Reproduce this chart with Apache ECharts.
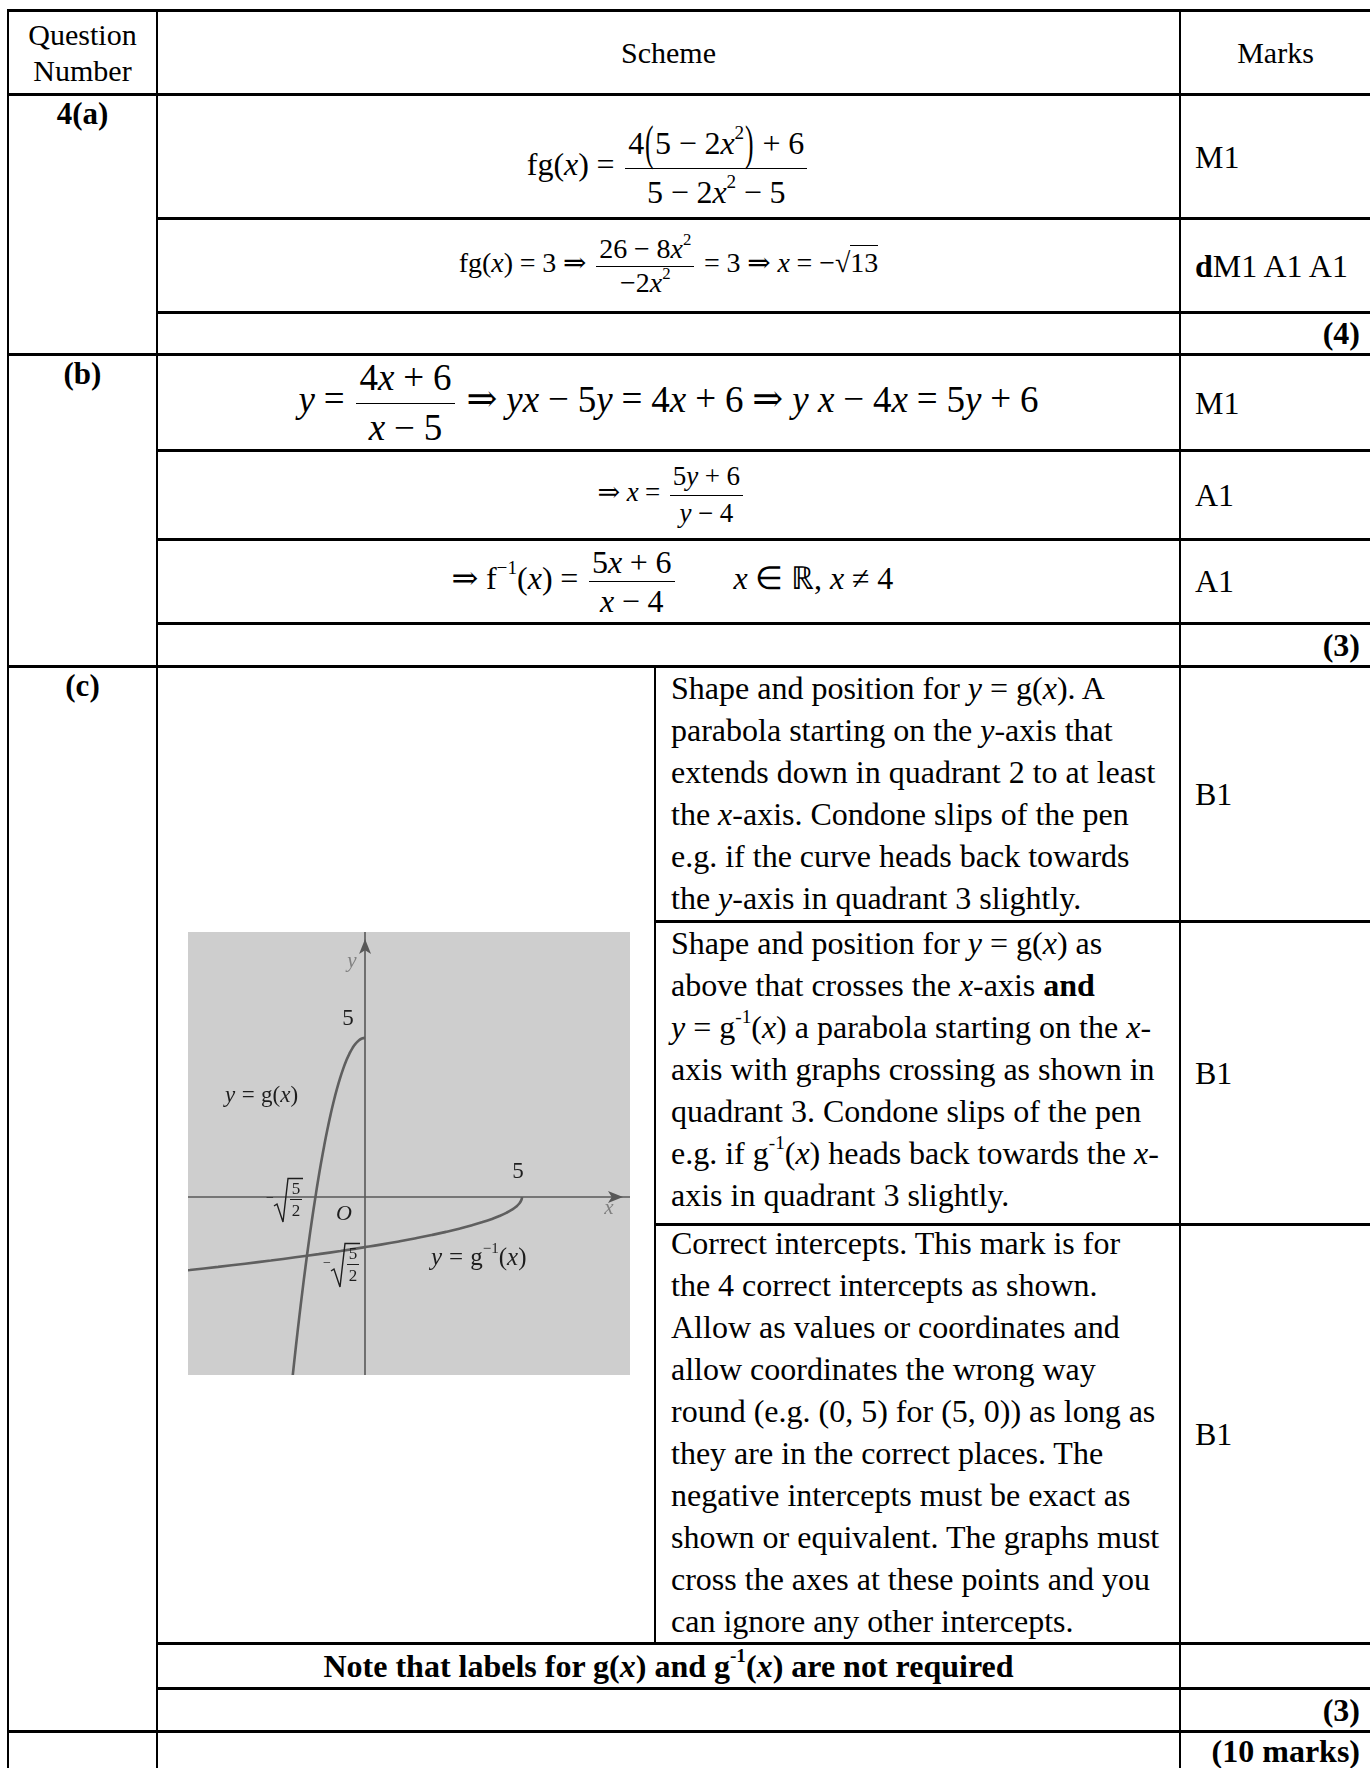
<!DOCTYPE html>
<html>
<head>
<meta charset="utf-8">
<title>Question 4 mark scheme</title>
<script src="https://cdn.jsdelivr.net/npm/echarts@6.0.0/dist/echarts.min.js"></script>
<style>
  body { margin:0; width:1370px; height:1768px; position:relative; overflow:hidden; background:#fff;
         font-family:"Liberation Serif","Times New Roman",serif; color:#000; }
  .h { position:absolute; height:3px; background:#000; }
  .v { position:absolute; width:2px; background:#000; }
  .cell { position:absolute; display:flex; align-items:center; white-space:nowrap; }
  .ctr { justify-content:center; }
  .rgt { justify-content:flex-end; }
  .t { position:absolute; white-space:nowrap; }
  .body { font-size:32px; line-height:42px; }
  sup { font-size:0.6em; line-height:0; vertical-align:0.8em; }
  .o { margin:0 0.24em; }
  .ar { font-family:"DejaVu Serif",serif; }
  .fr { display:inline-flex; flex-direction:column; align-items:center; vertical-align:middle; margin:0 3px; }
  .fr > .n { border-bottom:1.6px solid #000; padding:0 3px 1px; }
  .fr > .d { padding:1px 3px 0; }
  .bp { display:inline-block; transform:scale(0.8,1.5); }
  .ov { border-top:1.4px solid #000; padding-top:1px; }
  .lab { position:absolute; white-space:nowrap; font-size:23px; color:#1e1e1e; transform:translate(-50%,-50%); }
  .labl { position:absolute; white-space:nowrap; font-size:23px; color:#1e1e1e; transform:translateY(-50%); }
  .labl .o { margin:0 0.28em; }
  .rad { position:absolute; width:38px; height:46px; color:#1e1e1e; }
  .rad .m { position:absolute; left:0; top:14px; font-size:14px; line-height:14px; }
  .rad svg { position:absolute; left:0; top:0; }
  .rad .f { position:absolute; left:23px; top:2px; width:14px; display:flex; flex-direction:column; align-items:center;
            font-size:17px; line-height:19px; }
  .rad .f .bar { width:12px; height:1.3px; background:#1e1e1e; margin:1px 0; }
  #graph { position:absolute; left:188px; top:932px; width:442px; height:443px; }
</style>
</head>
<body>

<!-- table rules -->
<div class="h" style="left:8px;top:9px;width:1362px"></div>
<div class="h" style="left:8px;top:93px;width:1362px"></div>
<div class="h" style="left:157px;top:217px;width:1213px"></div>
<div class="h" style="left:157px;top:311px;width:1213px"></div>
<div class="h" style="left:8px;top:353px;width:1362px"></div>
<div class="h" style="left:157px;top:449px;width:1213px"></div>
<div class="h" style="left:157px;top:538px;width:1213px"></div>
<div class="h" style="left:157px;top:622px;width:1213px"></div>
<div class="h" style="left:8px;top:665px;width:1362px"></div>
<div class="h" style="left:655px;top:920px;width:715px"></div>
<div class="h" style="left:655px;top:1223px;width:715px"></div>
<div class="h" style="left:157px;top:1642px;width:1213px"></div>
<div class="h" style="left:157px;top:1687px;width:1213px"></div>
<div class="h" style="left:8px;top:1730px;width:1362px"></div>
<div class="v" style="left:7px;top:9px;height:1759px"></div>
<div class="v" style="left:156px;top:9px;height:1759px"></div>
<div class="v" style="left:1179px;top:9px;height:1759px"></div>
<div class="v" style="left:654px;top:665px;height:979px"></div>

<!-- header -->
<div class="cell ctr" style="left:9px;top:11px;width:147px;height:83px;font-size:30px;line-height:36px;text-align:center;white-space:normal"><span>Question<br>Number</span></div>
<div class="cell ctr" style="left:158px;top:11px;width:1021px;height:83px;font-size:30px"><span>Scheme</span></div>
<div class="cell ctr" style="left:1181px;top:11px;width:189px;height:83px;font-size:30px"><span>Marks</span></div>

<!-- question labels -->
<div class="t" style="left:9px;width:147px;top:96px;text-align:center;font-size:31px;font-weight:bold">4(a)</div>
<div class="t" style="left:9px;width:147px;top:356px;text-align:center;font-size:31px;font-weight:bold">(b)</div>
<div class="t" style="left:9px;width:147px;top:668px;text-align:center;font-size:31px;font-weight:bold">(c)</div>

<!-- part (a) -->
<div class="cell ctr" style="left:158px;top:96px;width:1021px;height:122px;font-size:32px;padding-top:22px;box-sizing:border-box"><span>fg(<i>x</i>)<span class="o">=</span><span class="fr" style="line-height:1.42"><span class="n">4<span class="bp">(</span>5<span class="o">&minus;</span>2<i>x</i><sup>2</sup><span class="bp">)</span><span class="o">+</span>6</span><span class="d">5<span class="o">&minus;</span>2<i>x</i><sup>2</sup><span class="o">&minus;</span>5</span></span></span></div>
<div class="cell" style="left:1195px;top:96px;width:175px;height:122px;font-size:32px"><span>M1</span></div>
<div class="cell ctr" style="left:158px;top:220px;width:1021px;height:92px;font-size:28px"><span>fg(<i>x</i>)<span class="o">=</span>3<span class="o ar">&rArr;</span><span class="fr" style="line-height:1.08"><span class="n">26<span class="o">&minus;</span>8<i>x</i><sup>2</sup></span><span class="d">&minus;2<i>x</i><sup>2</sup></span></span><span class="o">=</span>3<span class="o ar">&rArr;</span><i>x</i><span class="o">=</span>&minus;&radic;<span class="ov">13</span></span></div>
<div class="cell" style="left:1195px;top:220px;width:175px;height:92px;font-size:32px"><span><b>d</b>M1 A1 A1</span></div>
<div class="cell rgt" style="left:1181px;top:313px;width:179px;height:41px;font-size:32px;font-weight:bold"><span>(4)</span></div>

<!-- part (b) -->
<div class="cell ctr" style="left:158px;top:356px;width:1021px;height:94px;font-size:37px"><span><i>y</i><span class="o">=</span><span class="fr" style="line-height:1.26"><span class="n">4<i>x</i><span class="o">+</span>6</span><span class="d"><i>x</i><span class="o">&minus;</span>5</span></span><span class="o ar">&rArr;</span><i>yx</i><span class="o">&minus;</span>5<i>y</i><span class="o">=</span>4<i>x</i><span class="o">+</span>6<span class="o ar">&rArr;</span><i>y</i>&nbsp;<i>x</i><span class="o">&minus;</span>4<i>x</i><span class="o">=</span>5<i>y</i><span class="o">+</span>6</span></div>
<div class="cell" style="left:1195px;top:356px;width:175px;height:94px;font-size:32px"><span>M1</span></div>
<div class="cell ctr" style="left:158px;top:451px;width:1021px;height:88px;font-size:27px"><span><span class="o ar">&rArr;</span><i>x</i><span class="o">=</span><span class="fr" style="line-height:1.24"><span class="n">5<i>y</i><span class="o">+</span>6</span><span class="d"><i>y</i><span class="o">&minus;</span>4</span></span></span></div>
<div class="cell" style="left:1195px;top:451px;width:175px;height:88px;font-size:32px"><span>A1</span></div>
<div class="cell ctr" style="left:158px;top:540px;width:1021px;height:83px;font-size:32px"><span><span class="o ar">&rArr;</span>f<sup>&minus;1</sup>(<i>x</i>)<span class="o">=</span><span class="fr" style="line-height:1.14"><span class="n">5<i>x</i><span class="o">+</span>6</span><span class="d"><i>x</i><span class="o">&minus;</span>4</span></span><span style="display:inline-block;width:56px"></span><i>x</i><span class="o">&isin;</span>&#8477;, <i>x</i><span class="o">&ne;</span>4</span></div>
<div class="cell" style="left:1195px;top:540px;width:175px;height:83px;font-size:32px"><span>A1</span></div>
<div class="cell rgt" style="left:1181px;top:624px;width:179px;height:42px;font-size:32px;font-weight:bold"><span>(3)</span></div>

<!-- part (c) text -->
<div class="t body" style="left:671px;top:667px">Shape and position for <i>y</i> = g(<i>x</i>). A<br>parabola starting on the <i>y</i>-axis that<br>extends down in quadrant 2 to at least<br>the <i>x</i>-axis. Condone slips of the pen<br>e.g. if the curve heads back towards<br>the <i>y</i>-axis in quadrant 3 slightly.</div>
<div class="t body" style="left:671px;top:922px">Shape and position for <i>y</i> = g(<i>x</i>) as<br>above that crosses the <i>x</i>-axis <b>and</b><br><i>y</i> = g<sup>-1</sup>(<i>x</i>) a parabola starting on the <i>x</i>-<br>axis with graphs crossing as shown in<br>quadrant 3. Condone slips of the pen<br>e.g. if g<sup>-1</sup>(<i>x</i>) heads back towards the <i>x</i>-<br>axis in quadrant 3 slightly.</div>
<div class="t body" style="left:671px;top:1222px">Correct intercepts. This mark is for<br>the 4 correct intercepts as shown.<br>Allow as values or coordinates and<br>allow coordinates the wrong way<br>round (e.g. (0, 5) for (5, 0)) as long as<br>they are in the correct places. The<br>negative intercepts must be exact as<br>shown or equivalent. The graphs must<br>cross the axes at these points and you<br>can ignore any other intercepts.</div>
<div class="cell" style="left:1195px;top:667px;width:175px;height:254px;font-size:32px"><span>B1</span></div>
<div class="cell" style="left:1195px;top:922px;width:175px;height:302px;font-size:32px"><span>B1</span></div>
<div class="cell" style="left:1195px;top:1225px;width:175px;height:418px;font-size:32px"><span>B1</span></div>
<div class="cell ctr" style="left:158px;top:1644px;width:1021px;height:44px;font-size:32px;font-weight:bold"><span>Note that labels for g(<i>x</i>) and g<sup>-1</sup>(<i>x</i>) are not required</span></div>
<div class="cell rgt" style="left:1181px;top:1689px;width:179px;height:42px;font-size:32px;font-weight:bold"><span>(3)</span></div>
<div class="cell rgt" style="left:1181px;top:1733px;width:179px;height:36px;font-size:32px;font-weight:bold"><span>(10 marks)</span></div>

<!-- sketch -->
<div id="graph"></div>
<div class="lab" style="left:352px;top:960px;color:#808080;font-style:italic;font-size:21px">y</div>
<div class="lab" style="left:609px;top:1207px;color:#808080;font-style:italic;font-size:21px">x</div>
<div class="lab" style="left:348px;top:1018px">5</div>
<div class="lab" style="left:518px;top:1171px">5</div>
<div class="lab" style="left:344px;top:1213px;font-style:italic;font-size:22px">O</div>
<div class="labl" style="left:225px;top:1095px"><i>y</i><span class="o">=</span>g(<i>x</i>)</div>
<div class="labl" style="left:431px;top:1257px;font-size:25px"><i>y</i><span class="o">=</span>g<sup>&minus;1</sup>(<i>x</i>)</div>
<div class="rad" style="left:266px;top:1177px"><span class="m">&minus;</span><svg width="38" height="46"><path d="M8 29 L11 27 L17 45 L22 1.5 L37 1.5" fill="none" stroke="#1e1e1e" stroke-width="1.4"/></svg><span class="f"><span>5</span><span class="bar"></span><span>2</span></span></div>
<div class="rad" style="left:323px;top:1242px"><span class="m">&minus;</span><svg width="38" height="46"><path d="M8 29 L11 27 L17 45 L22 1.5 L37 1.5" fill="none" stroke="#1e1e1e" stroke-width="1.4"/></svg><span class="f"><span>5</span><span class="bar"></span><span>2</span></span></div>

<script>
// y = g(x) = 5 - 2x^2, x <= 0
var gX = [0, -0.1, -0.2, -0.3, -0.4, -0.5, -0.6, -0.7, -0.8, -0.9, -1.0, -1.1, -1.2,
          -1.3, -1.4, -1.5, -1.58, -1.7, -1.8, -1.9, -2.0, -2.1, -2.2, -2.3, -2.36];
var gY = [5, 4.98, 4.92, 4.82, 4.68, 4.5, 4.28, 4.02, 3.72, 3.38, 3.0, 2.58, 2.12,
          1.62, 1.08, 0.5, 0, -0.78, -1.48, -2.22, -3.0, -3.82, -4.68, -5.58, -6.14];

// y = g^-1(x), the reflection in y = x
var invX = [5, 4.98, 4.92, 4.82, 4.68, 4.5, 4.28, 4.02, 3.72, 3.38, 3.0, 2.58, 2.12,
            1.62, 1.08, 0.5, 0, -0.78, -1.48, -2.22, -3.0, -3.82, -4.68, -5.58, -6.14];
var invY = [0, -0.1, -0.2, -0.3, -0.4, -0.5, -0.6, -0.7, -0.8, -0.9, -1.0, -1.1, -1.2,
            -1.3, -1.4, -1.5, -1.58, -1.7, -1.8, -1.9, -2.0, -2.1, -2.2, -2.3, -2.36];

// visible window of the sketch
var xRange = [-5.64, 8.44];
var yRange = [-5.6, 8.33];

function pairs(xs, ys) {
	return xs.map(function (x, i) { return [x, ys[i]]; });
}

var axisStyle = {
	show: true,
	onZero: true,
	symbol: ['none', 'arrow'],
	symbolSize: [9, 15],
	symbolOffset: [0, -7],
	lineStyle: { color: '#585858', width: 1.6 }
};

var myChart = echarts.init(document.getElementById('graph'));
myChart.setOption({
	animation: false,
	backgroundColor: '#cecece',
	grid: { left: 0, right: 0, top: 0, bottom: 0 },
	xAxis: {
		type: 'value', min: xRange[0], max: xRange[1],
		axisLine: axisStyle, axisTick: { show: false },
		axisLabel: { show: false }, splitLine: { show: false }
	},
	yAxis: {
		type: 'value', min: yRange[0], max: yRange[1],
		axisLine: axisStyle, axisTick: { show: false },
		axisLabel: { show: false }, splitLine: { show: false }
	},
	series: [
		{
			name: 'g', type: 'line', data: pairs(gX, gY),
			showSymbol: false, smooth: true, silent: true,
			lineStyle: { color: '#5f5f5f', width: 2.6 }
		},
		{
			name: 'g inverse', type: 'line', data: pairs(invX, invY),
			showSymbol: false, smooth: true, silent: true,
			lineStyle: { color: '#5f5f5f', width: 2.6 }
		}
	]
});
</script>
</body>
</html>
